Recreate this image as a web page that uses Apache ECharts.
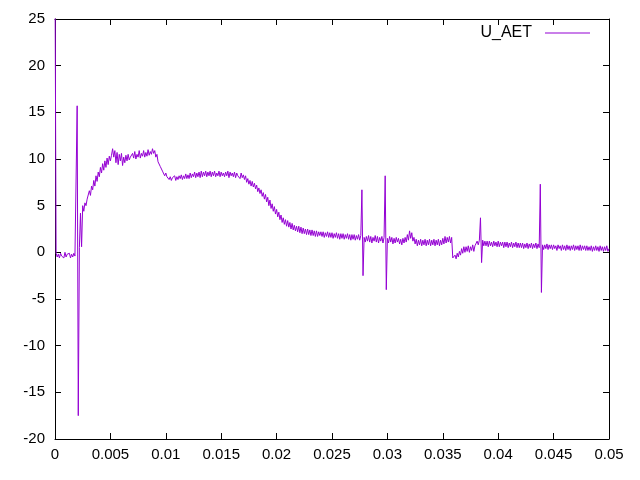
<!DOCTYPE html>
<html>
<head>
<meta charset="utf-8">
<script src="https://cdn.jsdelivr.net/npm/echarts@6/dist/echarts.min.js"></script>
<style>html,body{margin:0;padding:0;background:#fff}#c{width:640px;height:480px}</style>
</head>
<body>
<div id="c"></div>
<script>
// sampling grid of the recording (seconds)
const tStart = 0;
const tStep = 0.0001;
// U_AET samples, one per tStep
const uAET = [
30, -0.1, -0.5, -0.2, -0.6, -0.1, -0.4, -0.2, -0.6, 0.0,
-0.5, -0.2, -0.4, -0.1, -0.6, -0.2, -0.5, -0.1, -0.4, -0.3,
15.7, -17.5, 0.5, 4.2, 0.6, 5.0, 4.4, 5.3, 5.0, 5.7,
5.7, 6.6, 6.1, 7.1, 6.7, 7.7, 7.1, 8.2, 7.6, 8.6,
8.1, 9.1, 8.5, 9.5, 8.8, 9.8, 9.1, 10.1, 9.4, 10.3,
9.8, 10.4, 11.1, 10.2, 10.9, 9.6, 10.7, 9.4, 10.5, 9.8,
10.6, 9.3, 10.2, 9.6, 10.4, 9.8, 10.5, 9.9, 10.2, 10.0,
10.6, 10.1, 10.8, 10.0, 10.5, 10.2, 10.9, 10.1, 10.6, 10.3,
10.9, 10.2, 10.7, 10.3, 11.0, 10.4, 10.8, 10.5, 11.1, 10.6,
10.9, 10.2, 10.5, 9.7, 9.9, 9.2, 9.4, 8.7, 8.9, 8.2,
8.5, 8.1, 8.2, 7.8, 8.1, 7.7, 8.0, 7.8, 8.2, 7.7,
8.1, 7.8, 8.2, 7.9, 8.3, 7.8, 8.2, 7.9, 8.4, 7.9,
8.3, 7.9, 8.5, 8.0, 8.4, 8.1, 8.6, 8.0, 8.5, 8.1,
8.6, 8.0, 8.7, 8.1, 8.6, 8.2, 8.7, 8.1, 8.6, 8.2,
8.7, 8.1, 8.6, 8.2, 8.7, 8.1, 8.5, 8.2, 8.7, 8.1,
8.6, 8.2, 8.5, 8.1, 8.6, 8.2, 8.7, 8.0, 8.6, 8.2,
8.5, 8.1, 8.6, 8.0, 8.5, 8.2, 8.4, 7.9, 8.5, 8.0,
8.3, 7.8, 8.2, 7.5, 7.9, 7.3, 7.7, 7.1, 7.6, 7.0,
7.4, 6.8, 7.2, 6.5, 6.9, 6.3, 6.7, 6.0, 6.4, 5.7,
6.2, 5.4, 5.9, 5.0, 5.6, 4.7, 5.2, 4.4, 4.9, 4.1,
4.6, 3.8, 4.3, 3.5, 4.0, 3.2, 3.7, 3.0, 3.5, 2.8,
3.4, 2.7, 3.2, 2.5, 3.1, 2.4, 2.9, 2.3, 2.8, 2.2,
2.8, 2.1, 2.7, 2.0, 2.6, 2.0, 2.5, 1.9, 2.5, 1.9,
2.4, 1.8, 2.4, 1.8, 2.3, 1.7, 2.3, 1.7, 2.2, 1.8,
2.2, 1.7, 2.2, 1.6, 2.1, 1.7, 2.2, 1.6, 2.1, 1.6,
2.1, 1.5, 2.0, 1.6, 2.1, 1.5, 2.0, 1.4, 2.0, 1.5,
2.0, 1.4, 1.9, 1.5, 2.0, 1.4, 1.9, 1.3, 1.9, 1.4,
1.9, 1.3, 1.8, 1.4, 1.9, 1.3, 1.8, 6.7, -2.5, 1.6,
1.1, 1.7, 1.2, 1.8, 1.1, 1.7, 1.0, 1.6, 1.2, 1.8,
1.1, 1.7, 1.0, 1.6, 1.2, 1.7, 1.0, 1.6, 8.2, -4.0,
1.5, 1.0, 1.7, 1.1, 1.6, 0.9, 1.5, 1.0, 1.6, 1.1,
1.5, 0.9, 1.4, 0.8, 1.5, 1.0, 1.6, 1.1, 1.9, 1.3,
2.3, 1.5, 2.1, 1.2, 1.6, 0.9, 1.4, 0.7, 1.3, 0.8,
1.4, 0.7, 1.3, 0.8, 1.4, 0.7, 1.3, 0.8, 1.4, 0.7,
1.3, 0.8, 1.4, 0.7, 1.3, 0.8, 1.4, 0.7, 1.3, 0.8,
1.5, 0.9, 1.7, 1.0, 1.6, 1.1, 1.7, 1.0, 1.6, -0.6,
-0.8, -0.3, -0.7, -0.1, -0.5, 0.1, -0.3, 0.4, -0.1, 0.6,
0.0, 0.6, 0.1, 0.7, 0.0, 0.6, 0.2, 0.8, 0.1, 0.7,
0.7, 1.2, 0.8, 1.3, 3.7, -1.1, 1.3, 0.7, 1.2, 0.7,
1.2, 0.6, 1.2, 0.7, 1.1, 0.6, 1.2, 0.7, 1.1, 0.6,
1.2, 0.6, 1.1, 0.7, 1.1, 0.5, 1.1, 0.6, 1.1, 0.5,
1.0, 0.6, 1.1, 0.5, 1.0, 0.6, 1.1, 0.5, 1.0, 0.5,
1.0, 0.5, 1.0, 0.4, 0.9, 0.5, 1.0, 0.4, 0.9, 0.5,
1.0, 0.4, 0.9, 0.5, 1.0, 0.4, 0.9, 0.5, 7.3, -4.3,
0.8, 0.3, 0.8, 0.4, 0.9, 0.3, 0.8, 0.4, 0.8, 0.3,
0.8, 0.4, 0.7, 0.2, 0.8, 0.4, 0.7, 0.2, 0.8, 0.3,
0.7, 0.2, 0.8, 0.3, 0.7, 0.2, 0.7, 0.3, 0.8, 0.2,
0.7, 0.3, 0.7, 0.2, 0.8, 0.2, 0.7, 0.3, 0.7, 0.2,
0.7, 0.2, 0.6, 0.2, 0.7, 0.1, 0.6, 0.2, 0.7, 0.2,
0.6, 0.1, 0.7, 0.2, 0.6, 0.1, 0.6, 0.2, 0.7, 0.1,
0.4
];
const xTicks = { min: 0, max: 0.05, interval: 0.005 };
const yTicks = { min: -20, max: 25, interval: 5 };
const seriesName = 'U_AET';

const points = uAET.map((v, i) => [+(tStart + i * tStep).toFixed(4), v]);

const font = 'Liberation Sans, Arial, sans-serif';
const axisCommon = {
  axisLine: { show: true, onZero: false, lineStyle: { color: '#000', width: 1 } },
  axisTick: { show: true, inside: true, length: 6, lineStyle: { color: '#000' } },
  splitLine: { show: false },
  minorTick: { show: false }
};

const chart = echarts.init(document.getElementById('c'), null, { renderer: 'canvas' });
chart.setOption({
  animation: false,
  backgroundColor: '#fff',
  grid: { left: 55, right: 31, top: 19, bottom: 41, containLabel: false },
  legend: {
    right: 50, top: 25, padding: 0,
    data: [{ name: seriesName, icon: 'path://M0,0 L46,0 L46,1 L0,1 Z' }],
    align: 'right',
    itemWidth: 45, itemHeight: 1,
    textStyle: { fontFamily: font, fontSize: 16, color: '#000', padding: [0, 8, 0, 0] },
    itemStyle: { color: '#9400d3' },
    selectedMode: false
  },
  xAxis: [
    Object.assign({ type: 'value', position: 'bottom', min: xTicks.min, max: xTicks.max, interval: xTicks.interval,
      axisLabel: { show: true, color: '#000', fontFamily: font, fontSize: 15, margin: 8,
        formatter: v => String(+v.toFixed(4)) } }, axisCommon),
    Object.assign({ type: 'value', position: 'top', min: xTicks.min, max: xTicks.max, interval: xTicks.interval,
      axisLabel: { show: false } }, axisCommon)
  ],
  yAxis: [
    Object.assign({ type: 'value', position: 'left', min: yTicks.min, max: yTicks.max, interval: yTicks.interval,
      axisLabel: { show: true, color: '#000', fontFamily: font, fontSize: 15, margin: 10 } }, axisCommon),
    Object.assign({ type: 'value', position: 'right', min: yTicks.min, max: yTicks.max, interval: yTicks.interval,
      axisLabel: { show: false } }, axisCommon)
  ],
  series: [{
    name: seriesName,
    type: 'line',
    xAxisIndex: 0, yAxisIndex: 0,
    data: points,
    showSymbol: false,
    symbol: 'none',
    clip: true,
    lineStyle: { color: '#9400d3', width: 1 },
    itemStyle: { color: '#9400d3' }
  }]
});
</script>
</body>
</html>
